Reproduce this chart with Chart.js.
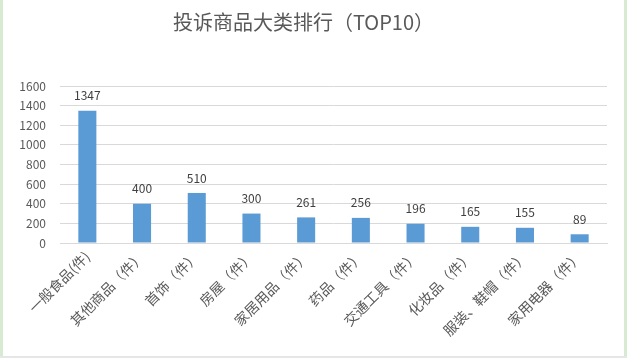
<!DOCTYPE html>
<html><head><meta charset="utf-8">
<script src="https://cdn.jsdelivr.net/npm/chart.js@4.4.0/dist/chart.umd.min.js"></script>
<style>
html,body{margin:0;padding:0;background:#fff;}
#wrap{position:relative;width:627px;height:358px;}
#c{position:absolute;left:0;top:0;}
.bl{position:absolute;left:0;top:0;width:3px;height:358px;background:#d7ebd2;}
.br{position:absolute;right:0;top:0;width:3px;height:358px;background:#d7ebd2;}
.bb{position:absolute;left:0;bottom:0;width:627px;height:2px;background:#e6e6e6;}
</style></head>
<body><div id="wrap"><canvas id="c" width="627" height="358"></canvas><div class="bl"></div><div class="br"></div><div class="bb"></div></div>
<script>
const categories = ['一般食品(件)','其他商品（件）','首饰（件）','房屋（件）','家居用品（件）','药品（件）','交通工具（件）','化妆品（件）','服装、鞋帽（件）','家用电器（件）'];
const values = [1347, 400, 510, 300, 261, 256, 196, 165, 155, 89];
const yTicks = [0,200,400,600,800,1000,1200,1400,1600];
const FONT = '"Noto Sans CJK SC", "Noto Sans", sans-serif';

const labelPlugin = {
  id: 'valueLabels',
  afterDatasetsDraw(chart) {
    const ctx = chart.ctx;
    const meta = chart.getDatasetMeta(0);
    ctx.save();
    ctx.font = '12px ' + FONT;
    ctx.fillStyle = '#404040';
    ctx.textAlign = 'center';
    ctx.textBaseline = 'bottom';
    meta.data.forEach((bar, i) => {
      ctx.fillText(String(values[i]), bar.x, bar.y - 9);
    });
    ctx.restore();
  }
};

new Chart(document.getElementById('c'), {
  type: 'bar',
  data: {
    labels: categories,
    datasets: [{
      data: values,
      backgroundColor: '#5B9BD5',
      borderWidth: 0,
      barPercentage: 0.33,
      categoryPercentage: 1.0
    }]
  },
  options: {
    responsive: false,
    animation: false,
    layout: { padding: { left: 0, right: 20, top: 0, bottom: 0 } },
    plugins: {
      legend: { display: false },
      tooltip: { enabled: false },
      title: {
        display: true,
        text: '投诉商品大类排行（TOP10）',
        color: '#595959',
        font: { family: FONT, size: 20, weight: 'normal' },
        padding: { top: 10, bottom: 52 }
      }
    },
    scales: {
      x: {
        grid: { display: false, drawTicks: false },
        border: { display: true, color: '#d9d9d9', width: 1 },
        afterFit(axis) { axis.height = 115; },
        ticks: {
          color: '#595959',
          font: { family: FONT, size: 14 },
          maxRotation: 45, minRotation: 45,
          autoSkip: false,
          padding: 5
        }
      },
      y: {
        min: 0, max: 1600,
        afterBuildTicks(axis) { axis.ticks = yTicks.map(v => ({ value: v })); },
        afterFit(axis) { axis.width = 60; },
        grid: { color: '#d9d9d9', drawTicks: false },
        border: { display: false },
        ticks: {
          color: '#595959',
          font: { family: FONT, size: 12 },
          padding: 14,
          callback(v) { return String(v); }
        }
      }
    }
  },
  plugins: [labelPlugin]
});
</script>
</body></html>
